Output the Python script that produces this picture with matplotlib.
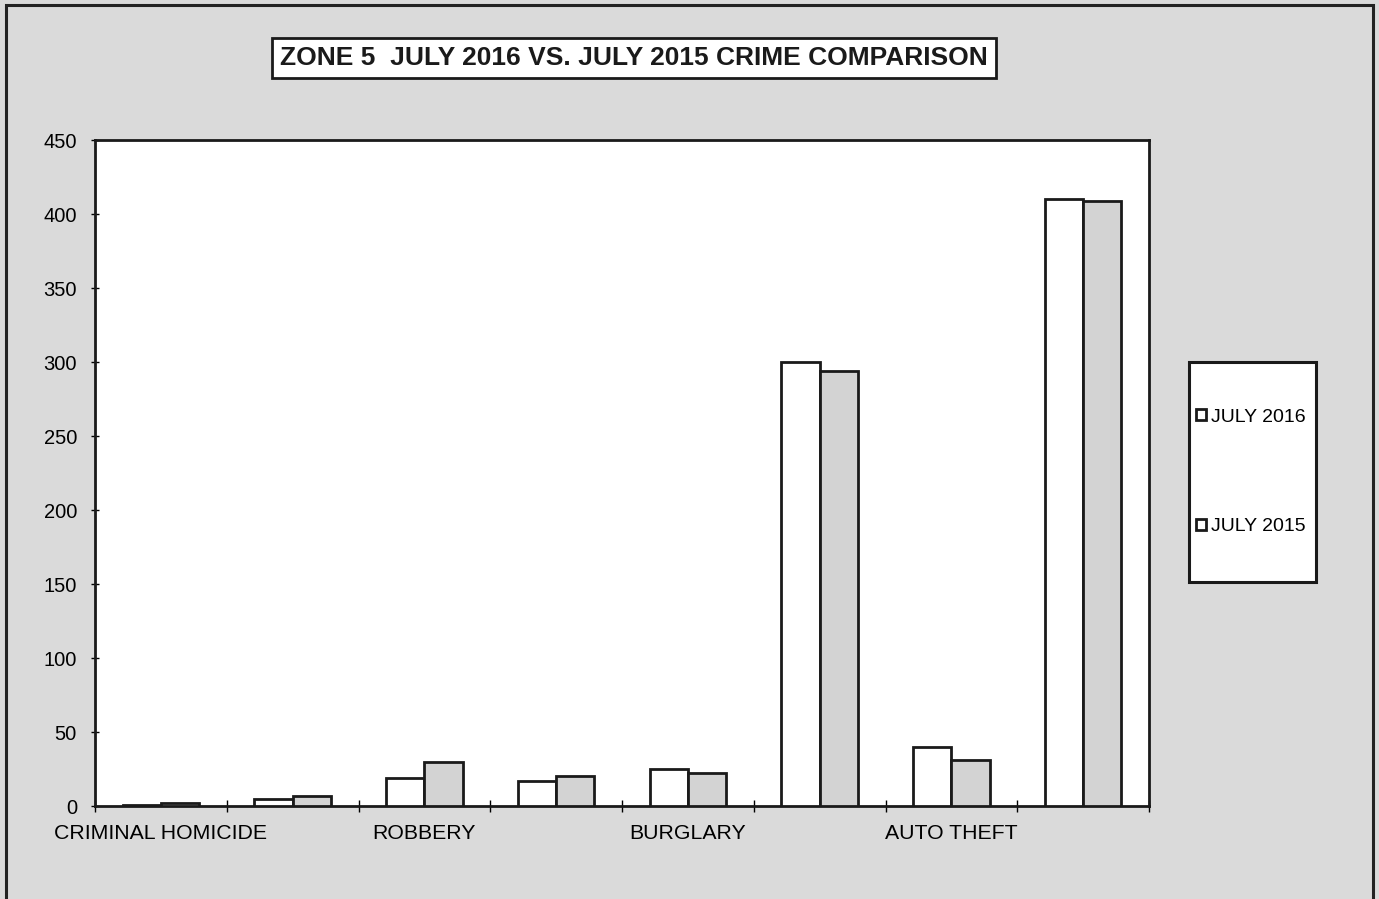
import numpy as np
import matplotlib.pyplot as plt
from matplotlib.patches import Rectangle

plt.rcParams['font.family'] = ['Liberation Sans', 'DejaVu Sans']

categories = ['CRIMINAL HOMICIDE', 'RAPE', 'ROBBERY', 'AGG. ASSAULT',
              'BURGLARY', 'THEFT', 'AUTO THEFT', 'TOTAL']
july_2016 = [1, 5, 19, 17, 25, 300, 40, 410]
july_2015 = [2, 7, 30, 20, 22, 294, 31, 409]
yticks = [0, 50, 100, 150, 200, 250, 300, 350, 400, 450]

W, H = 1379, 899
fig = plt.figure(figsize=(W / 100, H / 100), dpi=100, facecolor='#dadada')
# outer frame of the chart object
fig.patches.append(Rectangle((0.004, -0.01), 0.992, 1.004, transform=fig.transFigure,
                             fill=False, edgecolor='#222222', linewidth=2.2))

ax = fig.add_axes([95 / W, 1 - 806 / H, (1149 - 95) / W, (806 - 140) / H])
ax.set_facecolor('white')

x = np.arange(len(categories))
w = 0.29
ax.bar(x - w / 2, july_2016, width=w, color='white', edgecolor='#1a1a1a', linewidth=2,
       label='JULY 2016', zorder=3)
ax.bar(x + w / 2, july_2015, width=w, color='#d3d3d3', edgecolor='#1a1a1a', linewidth=2,
       label='JULY 2015', zorder=3)

ax.set_xlim(-0.5, len(categories) - 0.5)
ax.set_ylim(0, 450)
ax.set_yticks(yticks)
ax.tick_params(axis='y', labelsize=14.5, length=6, direction='inout', width=1, pad=10)

# excel style: ticks between categories, every other label shown
ax.set_xticks(np.arange(-0.5, len(categories), 1.0))
ax.set_xticklabels([])
ax.tick_params(axis='x', length=8, direction='inout', width=1)
ax.set_xticks(x[::2], minor=True)
ax.set_xticklabels(categories[::2], minor=True, fontsize=15.3)
ax.tick_params(axis='x', which='minor', length=0, pad=13)

for s in ax.spines.values():
    s.set_linewidth(2)
    s.set_color('#1a1a1a')

fig.text(634 / W, 1 - 58 / H, 'ZONE 5  JULY 2016 VS. JULY 2015 CRIME COMPARISON',
         ha='center', va='center', fontsize=19, fontweight='bold', color='#1a1a1a',
         bbox=dict(boxstyle='square,pad=0.3', facecolor='white', edgecolor='#1a1a1a',
                   linewidth=2))

# legend box
fig.patches.append(Rectangle((1189 / W, 1 - 582 / H), (1316 - 1189) / W, (582 - 362) / H,
                             transform=fig.transFigure, facecolor='white',
                             edgecolor='#1a1a1a', linewidth=2.2, zorder=1))
leg = fig.legend(loc='center left', bbox_to_anchor=(1196 / W, 1 - 472 / H),
                 fontsize=14, frameon=False,
                 handlelength=0.5, handleheight=0.5, handletextpad=0.25,
                 labelspacing=4.75, borderpad=0, borderaxespad=0)
leg.set_zorder(5)
for h in leg.legend_handles:
    h.set_facecolor('white')

fig.savefig('out.png', dpi=100, facecolor=fig.get_facecolor())
